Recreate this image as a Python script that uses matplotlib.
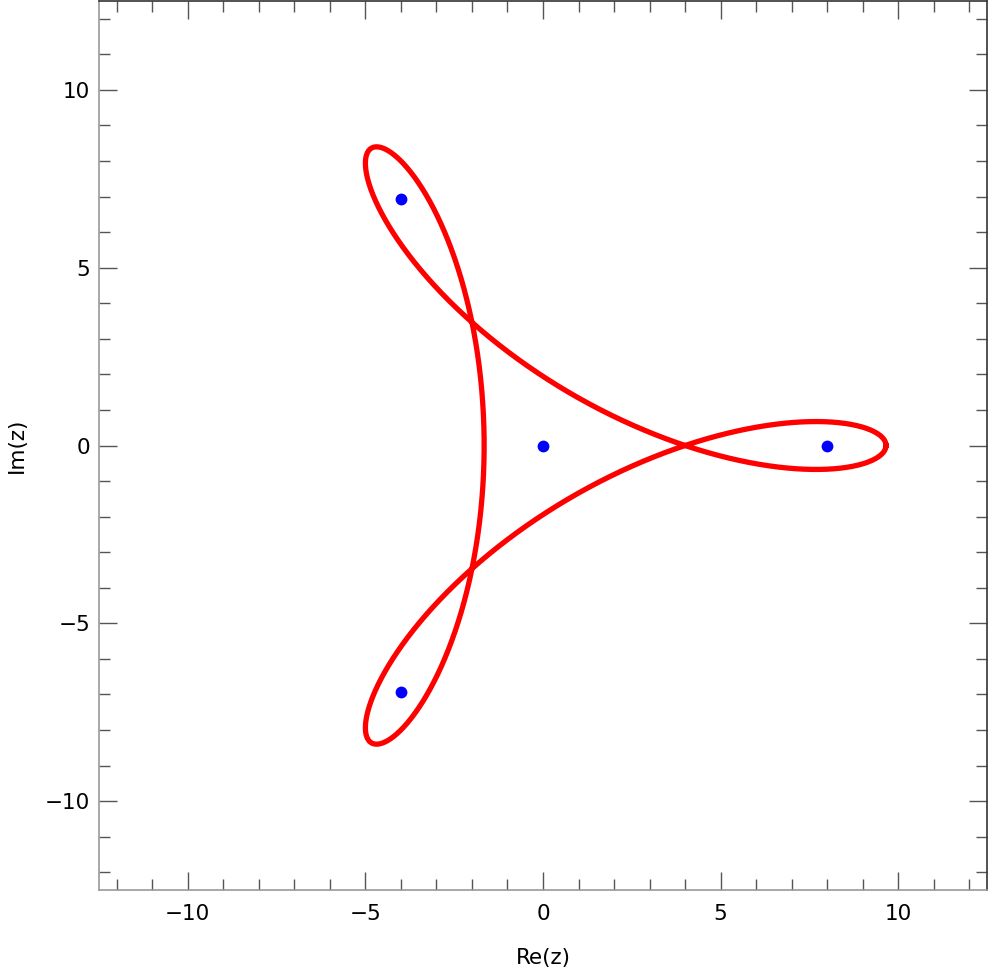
import numpy as np
import matplotlib
matplotlib.use("Agg")
import matplotlib.pyplot as plt
from matplotlib.ticker import MultipleLocator

# Marked points (blue dots): origin and the cube roots of 512
point_re = [0.0, 8.0, -4.0, -4.0]
point_im = [0.0, 0.0, 6.93, -6.93]

# Trefoil curve (hypotrochoid) coefficients
# z(t) = A e^{it} + B e^{-2it}
coef_A = 5.657
coef_B = 4.0

xticks = [-10, -5, 0, 5, 10]
yticks = [-10, -5, 0, 5, 10]

t = np.linspace(0, 2 * np.pi, 2000)
z = coef_A * np.exp(1j * t) + coef_B * np.exp(-2j * t)

fig = plt.figure(figsize=(9.96, 9.77), dpi=100)
ax = fig.add_axes([99 / 996, 1 - 890 / 977, (987 - 99) / 996, (890 - 1) / 977])

ax.plot(z.real, z.imag, color=(1, 0, 0), lw=3.8, solid_joinstyle="round", zorder=2)
ax.plot(point_re, point_im, "o", color=(0, 0, 1), ms=8.5, mec="none", zorder=3)

ax.set_xlim(-12.5, 12.5)
ax.set_ylim(-12.5, 12.5)
ax.set_xticks(xticks)
ax.set_yticks(yticks)
ax.xaxis.set_minor_locator(MultipleLocator(1))
ax.yaxis.set_minor_locator(MultipleLocator(1))
ax.tick_params(which="both", direction="in", top=True, right=True,
               labeltop=False, labelright=False, color="#555555", width=1)
ax.tick_params(which="major", length=13, labelsize=15.5)
ax.tick_params(which="minor", length=8)
ax.tick_params(axis="x", which="major", pad=10)
ax.tick_params(axis="y", which="major", pad=6.5)
ax.set_xticklabels([f"{v}".replace("-", "\u2212") for v in xticks])
ax.set_yticklabels([f"{v}".replace("-", "\u2212") for v in yticks])

for side in ["left", "bottom"]:
    ax.spines[side].set_color("#999999")
for side in ["right", "top"]:
    ax.spines[side].set_color("#333333")
for s in ax.spines.values():
    s.set_linewidth(1.2)

ax.set_xlabel("Re(z)", fontsize=15.5)
ax.set_ylabel("Im(z)", fontsize=15.5)
ax.xaxis.set_label_coords(0.5, -0.0652)
ax.yaxis.set_label_coords(-0.0811, 0.5)

fig.savefig("out.png", dpi=100)
